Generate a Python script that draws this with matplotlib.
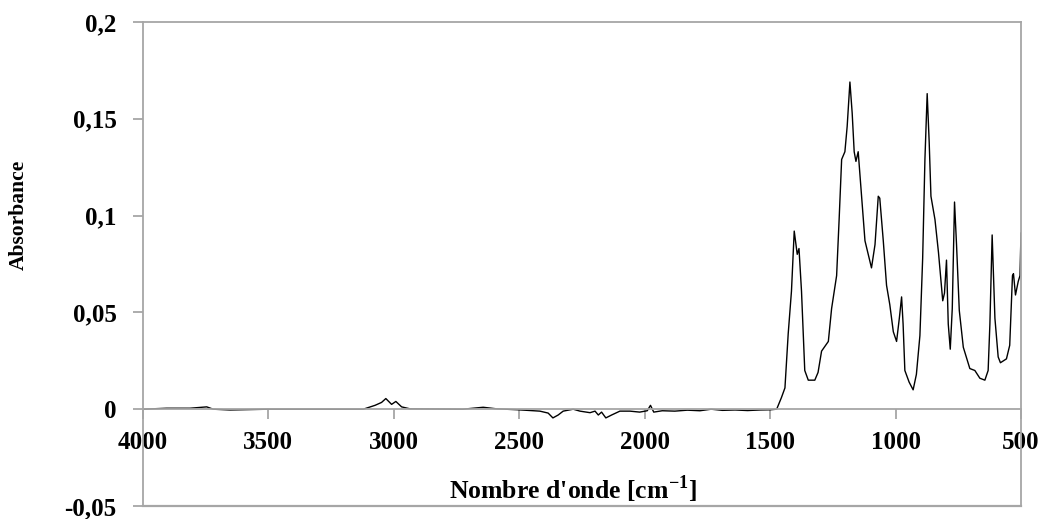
import matplotlib
matplotlib.use("Agg")
import matplotlib.pyplot as plt
from matplotlib.ticker import FuncFormatter

plt.rcParams["font.family"] = ["Liberation Serif", "DejaVu Serif"]
plt.rcParams["font.weight"] = "bold"
plt.rcParams["mathtext.fontset"] = "custom"
plt.rcParams["mathtext.rm"] = "Liberation Serif:bold"
plt.rcParams["mathtext.bf"] = "Liberation Serif:bold"

# spectrum (wavenumber in cm-1, absorbance)
wavenumber = [4000, 3906, 3813, 3746, 3720, 3653, 3500, 3122, 3075, 3049, 3032, 3009,
              2992, 2969, 2936, 2725, 2644, 2591, 2505, 2418, 2385, 2366, 2345, 2325,
              2285, 2258, 2218, 2198, 2185, 2172, 2155, 2132, 2099, 2059, 2020, 1990,
              1977, 1964, 1930, 1880, 1830, 1780, 1735, 1690, 1640, 1590, 1540, 1500,
              1474, 1455, 1441, 1428, 1415, 1404, 1392, 1385, 1375, 1362, 1348, 1322,
              1309, 1295, 1268, 1255, 1235, 1225, 1215, 1202, 1193, 1182, 1173, 1165,
              1158, 1149, 1139, 1122, 1096, 1082, 1069, 1063, 1049, 1036, 1023, 1009,
              996, 985, 976, 970, 963, 946, 930, 917, 903, 892, 883, 874, 866, 859,
              843, 829, 812, 805, 797, 790, 782, 774, 765, 757, 746, 730, 704, 684,
              664, 644, 631, 624, 615, 604, 591, 582, 558, 545, 534, 530, 522, 511,
              504, 500]
absorbance = [0.0, 0.0005, 0.0005, 0.0012, 0.0, -0.0004, 0.0, 0.0, 0.002, 0.0035, 0.0055,
              0.0025, 0.004, 0.0012, 0.0002, 0.0, 0.001, 0.0002, -0.0003, -0.001, -0.002,
              -0.0045, -0.003, -0.001, 0.0, -0.001, -0.0018, -0.001, -0.003, -0.0015,
              -0.0045, -0.003, -0.001, -0.001, -0.0015, -0.0008, 0.002, -0.0015, -0.0008,
              -0.001, -0.0005, -0.0008, 0.0, -0.0006, -0.0004, -0.0007, -0.0004, -0.0003,
              0.0, 0.006, 0.011, 0.039, 0.061, 0.092, 0.080, 0.083, 0.061, 0.020, 0.015,
              0.015, 0.019, 0.030, 0.035, 0.052, 0.069, 0.098, 0.129, 0.133, 0.146, 0.169,
              0.153, 0.133, 0.128, 0.133, 0.116, 0.087, 0.073, 0.085, 0.110, 0.109, 0.087,
              0.064, 0.054, 0.040, 0.035, 0.047, 0.058, 0.044, 0.020, 0.014, 0.010, 0.018,
              0.038, 0.078, 0.129, 0.163, 0.138, 0.110, 0.098, 0.081, 0.056, 0.060, 0.077,
              0.044, 0.031, 0.052, 0.107, 0.085, 0.051, 0.032, 0.021, 0.020, 0.016, 0.015,
              0.020, 0.044, 0.090, 0.047, 0.027, 0.024, 0.026, 0.033, 0.069, 0.070, 0.059,
              0.066, 0.069, 0.091]

x_ticks = [4000, 3500, 3000, 2500, 2000, 1500, 1000, 500]
y_ticks = [-0.05, 0, 0.05, 0.1, 0.15, 0.2]

grey = "#a6a6a6"

fig = plt.figure(figsize=(10.42, 5.19), dpi=100)
ax = fig.add_axes([143 / 1042, 13 / 519, 878 / 1042, 484 / 519])

ax.plot(wavenumber, absorbance, color="black", lw=1.0, solid_joinstyle="round")

ax.set_xlim(4000, 500)
ax.set_ylim(-0.05, 0.2)
ax.set_xticks(x_ticks)
ax.set_yticks(y_ticks)
ax.yaxis.set_major_formatter(FuncFormatter(lambda v, p: ("%g" % v).replace(".", ",")))

for s in ax.spines.values():
    s.set_color(grey)
    s.set_linewidth(1.3)
ax.spines["bottom"].set_position(("data", 0))
# bottom edge of the frame
ax.plot([0, 1], [0, 0], transform=ax.transAxes, color=grey, lw=1.6, clip_on=False)

ax.tick_params(axis="x", direction="out", length=7, width=1.3, color=grey,
               labelsize=18, pad=9)
ax.tick_params(axis="y", direction="out", length=7, width=1.3, color=grey,
               labelsize=18, pad=12)

ax.text(0.49, 0.015, r"Nombre d'onde [cm$^{\mathbf{-1}}$]", transform=ax.transAxes,
        ha="center", va="baseline", fontsize=18.5, fontweight="bold")
fig.text(19 / 1042, 1 - 215 / 519, "Absorbance", rotation=90, ha="center",
         va="center", fontsize=15.5, fontweight="bold")

fig.savefig("out.png", dpi=100)
